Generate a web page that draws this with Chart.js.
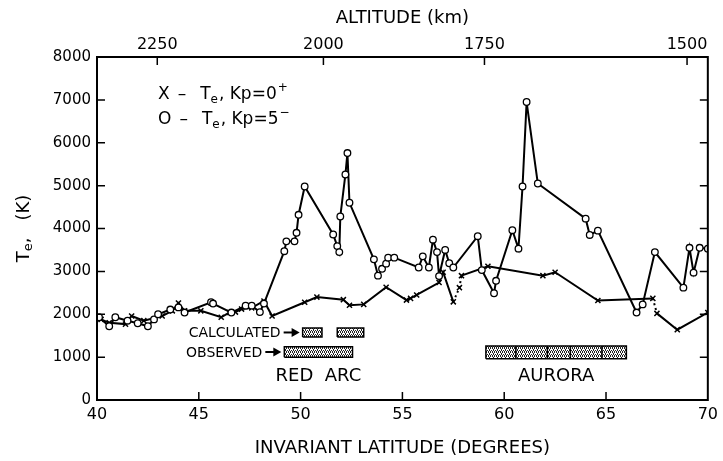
<!DOCTYPE html>
<html><head><meta charset="utf-8">
<script src="https://cdn.jsdelivr.net/npm/chart.js@4/dist/chart.umd.min.js"></script>
<style>html,body{margin:0;padding:0;background:#fff}#wrap{width:723px;height:461px}</style>
</head><body><div id="wrap"><canvas id="c" width="723" height="461"></canvas></div>
<script>
// ---------- data ----------
const latitudeMin = 40, latitudeMax = 70, latitudeStep = 5;
const teMin = 0, teMax = 8000, teStep = 1000;
const altitudeLabels = [2250, 2000, 1750, 1500];
const altitudeLatitudes = [42.96, 51.12, 59.03, 68.98];

// Te, Kp = 5- (circles)
const kp5Lat = [40.1,40.6,40.9,41.5,42.0,42.5,42.8,43.0,43.6,44.0,44.3,45.6,45.7,46.6,47.3,47.6,48.0,48.2,
  49.2,49.3,49.7,49.8,49.9,50.2,51.6,51.8,51.9,51.95,52.2,52.3,52.4,53.6,53.8,54.0,54.2,54.3,54.6,
  55.8,56.0,56.3,56.5,56.7,56.8,57.1,57.3,57.5,58.7,58.9,59.5,59.6,60.4,60.7,60.9,61.1,61.65,
  64.0,64.2,64.6,66.5,66.8,67.4,68.8,69.1,69.3,69.6,70.0];
const kp5Te = [1930,1720,1930,1850,1790,1720,1880,2000,2110,2160,2040,2280,2250,2040,2200,2200,2050,2250,
  3470,3700,3700,3900,4320,4980,3860,3590,3450,4280,5260,5760,4600,3280,2900,3060,3180,3320,3320,
  3090,3350,3090,3740,3450,2890,3500,3190,3090,3820,3030,2490,2780,3960,3530,4980,6950,5050,
  4230,3850,3950,2040,2230,3450,2620,3550,2970,3550,3530];

// Te, Kp = 0+ (crosses)
const kp0Lat = [40.2,40.6,41.4,41.7,42.3,43.2,43.7,44.0,44.3,45.1,46.1,46.5,46.8,47.1,47.6,48.2,48.6,
  50.2,50.8,52.1,52.4,53.1,54.2,55.2,55.4,55.7,56.8,57.0,57.5,57.8,57.9,59.2,61.9,62.5,64.6,67.3,67.5,68.5,70.0];
const kp0Te = [1880,1800,1770,1960,1850,1960,2080,2260,2080,2080,1930,2040,2050,2120,2150,2310,1960,
  2280,2400,2340,2210,2230,2630,2330,2370,2450,2740,2980,2290,2620,2900,3120,2900,2980,2320,2370,2020,1640,2040];
const kp0DashedSegments = [28, 29, 35];

// red arc and aurora bands
const calculatedArcLat = [[50.1, 51.05], [51.8, 53.1]];
const calculatedArcTe = [1470, 1680];
const observedArcLat = [49.2, 52.55];
const observedArcTe = [1000, 1240];
const auroraLat = [59.1, 66.0];
const auroraTe = [960, 1260];
const auroraDividers = [60.57, 62.12, 63.25, 64.8];

// ---------- helpers ----------
const FONT = "'DejaVu Sans', 'Liberation Sans', sans-serif";
function pts(xs, ys) { return xs.map((x, i) => ({x: x, y: ys[i]})); }
function rect(x1, x2, y1, y2) { return [{x:x1,y:y1},{x:x2,y:y1},{x:x2,y:y2},{x:x1,y:y2},{x:x1,y:y1}]; }

const pc = document.createElement('canvas'); pc.width = 4; pc.height = 4;
const pg = pc.getContext('2d');
pg.fillStyle = '#fff'; pg.fillRect(0, 0, 4, 4);
pg.fillStyle = '#222';
[[0,0],[2,0],[1,1],[3,2],[1,2],[0,3],[2,3]].forEach(p => pg.fillRect(p[0], p[1], 1, 1));
const stipple = pg.createPattern(pc, 'repeat');

function band(data) {
  return {type: 'line', data: data, borderColor: '#000', borderWidth: 1.5, backgroundColor: stipple,
    fill: 'shape', pointRadius: 0, tension: 0, order: 5};
}

const datasets = [
  {label: 'Kp=5-', data: pts(kp5Lat, kp5Te), borderColor: '#000', borderWidth: 2, tension: 0,
   pointStyle: 'circle', pointRadius: 3.3, pointBorderWidth: 1.3, pointBackgroundColor: '#fff', pointBorderColor: '#000', order: 1},
  {label: 'Kp=0+', data: pts(kp0Lat, kp0Te), borderColor: '#000', borderWidth: 2, tension: 0,
   pointStyle: 'crossRot', pointRadius: 3.6, pointBorderWidth: 1.5, pointBorderColor: '#000', order: 2,
   segment: {borderDash: ctx => kp0DashedSegments.includes(ctx.p0DataIndex) ? [2, 3] : undefined}},
];
calculatedArcLat.forEach(r => datasets.push(band(rect(r[0], r[1], calculatedArcTe[0], calculatedArcTe[1]))));
datasets.push(band(rect(observedArcLat[0], observedArcLat[1], observedArcTe[0], observedArcTe[1])));
datasets.push(band(rect(auroraLat[0], auroraLat[1], auroraTe[0], auroraTe[1])));
auroraDividers.forEach(d => datasets.push({type: 'line', data: [{x: d, y: auroraTe[0]}, {x: d, y: auroraTe[1]}],
  borderColor: '#000', borderWidth: 1.5, pointRadius: 0, fill: false, order: 4}));

// ---------- decorations plugin ----------
const deco = {
  id: 'deco',
  afterDatasetsDraw(chart) {
    const {ctx, chartArea: a, scales} = chart;
    const xs = scales.x, ys = scales.y, x2 = scales.x2;
    ctx.save();
    ctx.strokeStyle = '#000'; ctx.lineWidth = 2;
    ctx.strokeRect(a.left, a.top, a.right - a.left, a.bottom - a.top);
    ctx.lineWidth = 1.5;
    const L = 8;
    ctx.beginPath();
    xs.ticks.forEach(t => { if (t.value > latitudeMin && t.value < latitudeMax) { const p = xs.getPixelForValue(t.value); ctx.moveTo(p, a.bottom); ctx.lineTo(p, a.bottom - L); } });
    ys.ticks.forEach(t => { if (t.value > teMin && t.value < teMax) { const p = ys.getPixelForValue(t.value);
      ctx.moveTo(a.left, p); ctx.lineTo(a.left + L, p); ctx.moveTo(a.right, p); ctx.lineTo(a.right - L, p); } });
    x2.ticks.forEach(t => { const p = x2.getPixelForValue(t.value); ctx.moveTo(p, a.top); ctx.lineTo(p, a.top + L); });
    ctx.stroke();

    // band labels
    ctx.fillStyle = '#000';
    ctx.textBaseline = 'middle';
    function arrowLabel(text, latStart, teLo, teHi) {
      const xe = xs.getPixelForValue(latStart) - 3;
      const y = (ys.getPixelForValue(teLo) + ys.getPixelForValue(teHi)) / 2;
      ctx.font = '14px ' + FONT; ctx.textAlign = 'right';
      ctx.fillText(text, xe - 19, y + 1);
      ctx.beginPath(); ctx.lineWidth = 2; ctx.moveTo(xe - 16, y); ctx.lineTo(xe - 6, y); ctx.stroke();
      ctx.beginPath(); ctx.moveTo(xe, y); ctx.lineTo(xe - 8, y - 4.5); ctx.lineTo(xe - 8, y + 4.5); ctx.closePath(); ctx.fill();
    }
    arrowLabel('CALCULATED', calculatedArcLat[0][0], calculatedArcTe[0], calculatedArcTe[1]);
    arrowLabel('OBSERVED', observedArcLat[0], observedArcTe[0], observedArcTe[1]);
    ctx.font = '18px ' + FONT; ctx.textAlign = 'center';
    const yLab = ys.getPixelForValue(observedArcTe[0]) + 19;
    ctx.fillText('RED  ARC', xs.getPixelForValue((observedArcLat[0] + observedArcLat[1]) / 2), yLab);
    ctx.fillText('AURORA', xs.getPixelForValue((auroraLat[0] + auroraLat[1]) / 2), yLab);

    // legend
    function legendLine(sym, sup, x, y) {
      ctx.textAlign = 'left'; ctx.textBaseline = 'alphabetic';
      ctx.font = '17px ' + FONT;
      let cx = x;
      ctx.fillText(sym, cx, y); cx += ctx.measureText(sym).width + 8;
      ctx.fillText('–', cx, y); cx += ctx.measureText('–').width + 14;
      ctx.fillText('T', cx, y); cx += ctx.measureText('T').width;
      ctx.font = '12px ' + FONT; ctx.fillText('e', cx, y + 4); cx += ctx.measureText('e').width + 1;
      ctx.font = '17px ' + FONT;
      ctx.fillText(', Kp=' + sup[0], cx, y); cx += ctx.measureText(', Kp=' + sup[0]).width + 1;
      ctx.font = '12px ' + FONT; ctx.fillText(sup[1], cx, y - 8);
    }
    legendLine('X', ['0', '+'], 158, 99);
    legendLine('O', ['5', '−'], 158, 124);

    // y axis title
    ctx.save();
    ctx.translate(24, a.top + (a.bottom - a.top) / 2);
    ctx.rotate(-Math.PI / 2);
    ctx.font = '18px ' + FONT; ctx.textBaseline = 'middle'; ctx.textAlign = 'left';
    const w1 = ctx.measureText('T').width;
    ctx.font = '13px ' + FONT; const w2 = ctx.measureText('e').width;
    ctx.font = '18px ' + FONT; const w3 = ctx.measureText(',   (K)').width;
    let sx = -(w1 + w2 + w3) / 2;
    ctx.fillText('T', sx, 0); sx += w1;
    ctx.font = '13px ' + FONT; ctx.fillText('e', sx, 5); sx += w2;
    ctx.font = '18px ' + FONT; ctx.fillText(',   (K)', sx, 0);
    ctx.restore();
    ctx.restore();
  }
};

new Chart(document.getElementById('c'), {
  type: 'line',
  data: {datasets: datasets},
  plugins: [deco],
  options: {
    responsive: false, animation: false, devicePixelRatio: 1,
    layout: {padding: {left: 0, right: 8, top: 0, bottom: 0}},
    plugins: {legend: {display: false}, tooltip: {enabled: false}},
    scales: {
      x: {type: 'linear', position: 'bottom', min: latitudeMin, max: latitudeMax,
        ticks: {stepSize: latitudeStep, color: '#000', font: {family: FONT, size: 16}, padding: 5, maxRotation: 0,
          callback: v => String(v)},
        grid: {drawOnChartArea: false, drawTicks: false}, border: {display: false},
        title: {display: true, text: 'INVARIANT LATITUDE (DEGREES)', color: '#000', font: {family: FONT, size: 18}, padding: {top: 0, bottom: 2}},
        afterFit: s => { s.height = 61; }},
      x2: {type: 'linear', position: 'top', min: latitudeMin, max: latitudeMax,
        afterBuildTicks: s => { s.ticks = altitudeLatitudes.map(v => ({value: v})); },
        ticks: {color: '#000', font: {family: FONT, size: 16}, padding: 3, maxRotation: 0, autoSkip: false,
          callback: (v) => { const i = altitudeLatitudes.indexOf(v); return i >= 0 ? String(altitudeLabels[i]) : ''; }},
        grid: {drawOnChartArea: false, drawTicks: false}, border: {display: false},
        title: {display: true, text: 'ALTITUDE (km)', color: '#000', font: {family: FONT, size: 18}, padding: {top: 8, bottom: 0}},
        afterFit: s => { s.height = 57; }},
      y: {type: 'linear', position: 'left', min: teMin, max: teMax,
        ticks: {stepSize: teStep, color: '#000', font: {family: FONT, size: 15}, padding: 6, callback: v => String(v)},
        grid: {drawOnChartArea: false, drawTicks: false}, border: {display: false},
        afterFit: s => { s.width = 97; }}
    }
  }
});
</script></body></html>
